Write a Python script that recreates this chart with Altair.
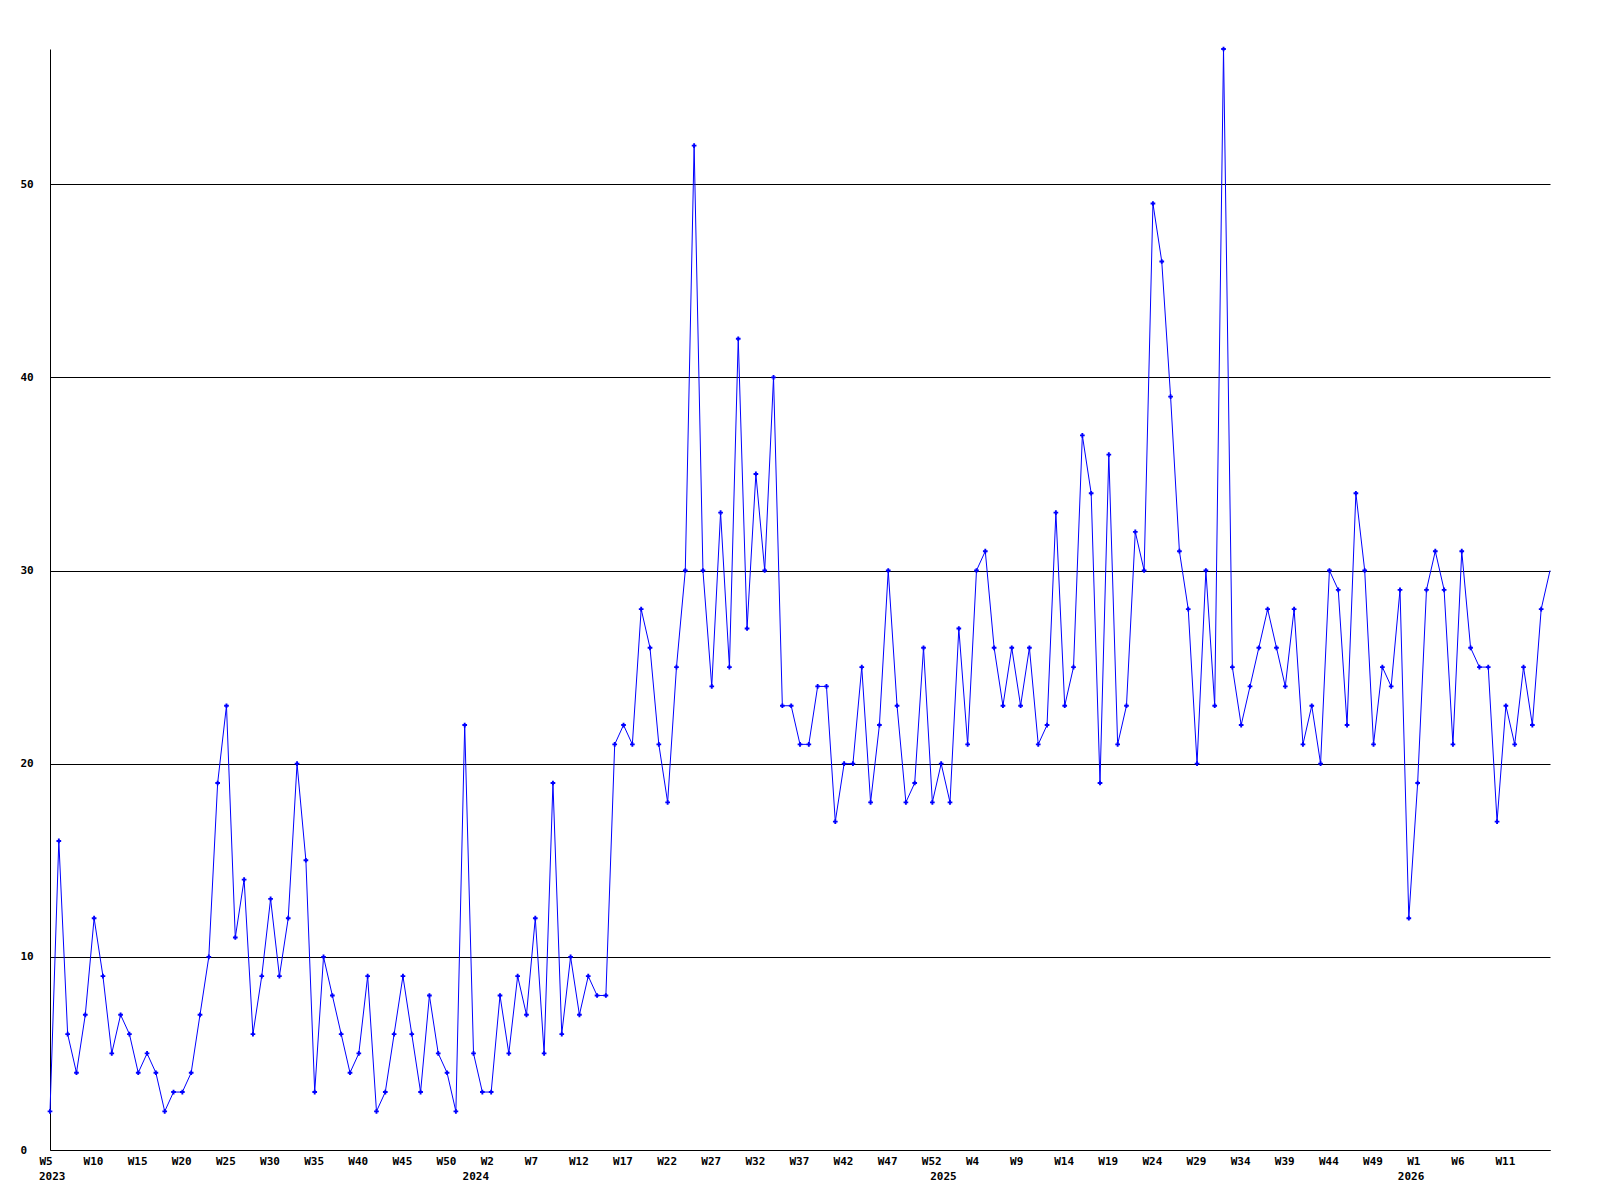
import altair as alt
import pandas as pd

# Weekly counts
values_2023 = [2, 16, 6, 4, 7, 12, 9, 5, 7, 6, 4, 5, 4, 2, 3, 3, 4, 7, 10, 19, 23, 11, 14, 6,
               9, 13, 9, 12, 20, 15, 3, 10, 8, 6, 4, 5, 9, 2, 3, 6, 9, 6, 3, 8, 5, 4, 2, 22]
values_2024 = [5, 3, 3, 8, 5, 9, 7, 12, 5, 19, 6, 10, 7, 9, 8, 8,
               21, 22, 21, 28, 26, 21, 18, 25, 30, 52, 30, 24, 33, 25, 42, 27, 35, 30, 40, 23, 23,
               21, 21, 24, 24, 17, 20, 20, 25, 18, 22, 30, 23, 18, 19, 26, 18]
values_2025 = [20, 18, 27, 21,
               30, 31, 26, 23, 26, 23, 26, 21, 22, 33, 23, 25, 37, 34, 19, 36, 21, 23, 32, 30,
               49, 46, 39, 31, 28, 20, 30, 23, 57, 25, 22, 24, 26, 28, 26, 24, 28, 21, 23, 20, 30, 29, 22,
               34, 30, 21, 25, 24, 29]
values_2026 = [12, 19, 29, 31, 29, 21, 31, 26, 25, 25, 17, 23, 21, 25, 22, 28, 30]

years = [2023, 2024, 2025, 2026]
first_week = [5, 0, 0, 0]
series = [values_2023, values_2024, values_2025, values_2026]
y_ticks = [0, 10, 20, 30, 40, 50]
y_max = 57

rows = []
year_rows = []
i = 0
for year, w0, vals in zip(years, first_week, series):
    year_rows.append({"idx": i, "label": str(year)})
    for k, v in enumerate(vals):
        rows.append({"idx": i, "year": year, "week": w0 + k, "count": v})
        i += 1
df = pd.DataFrame(rows)
year_df = pd.DataFrame(year_rows)
n = len(df)

tick_idx = list(range(0, n - 1, 5))
tick_labels = ["W%d" % df["week"][t] for t in tick_idx]
label_expr = "[" + ",".join("'%s'" % l for l in tick_labels) + "][round(datum.value/5)]"

FONT = "DejaVu Sans Mono"

x_enc = alt.X(
    "idx:Q",
    scale=alt.Scale(domain=[0, n - 1], nice=False, zero=False),
    axis=alt.Axis(
        values=tick_idx, labelExpr=label_expr, grid=False, ticks=False,
        domainColor="black", domainWidth=1, labelAlign="left", labelOffset=-11,
        labelPadding=5, labelFont=FONT, labelFontSize=11, labelFontWeight="bold",
        labelColor="black", title=None, labelOverlap=False, labelFlush=False,
    ),
)
y_enc = alt.Y(
    "count:Q",
    scale=alt.Scale(domain=[0, y_max], nice=False, zero=True),
    axis=alt.Axis(
        values=y_ticks, grid=True, gridColor="black", gridOpacity=1, gridWidth=1,
        ticks=False, domainColor="black", domainWidth=1, labelAlign="left",
        labelPadding=30, labelFont=FONT, labelFontSize=11, labelFontWeight="bold",
        labelColor="black", title=None, labelFlush=False, labelOverlap=False,
    ),
)

base = alt.Chart(df).encode(x=x_enc, y=y_enc)
line = base.mark_line(color="#0000ff", strokeWidth=1)
pts = base.mark_point(shape="cross", filled=True, size=22, color="#0000ff", opacity=1).transform_filter(
    alt.datum.idx < n - 1
)

year_text = alt.Chart(year_df).mark_text(
    align="left", dx=-11, baseline="middle", font=FONT, fontSize=11,
    fontWeight="bold", color="black",
).encode(x=alt.X("idx:Q"), y=alt.value(1128), text="label:N")

chart = alt.layer(line, pts, year_text).properties(
    width=1500, height=1101,
    autosize=alt.AutoSizeParams(type="none"),
    padding={"left": 42, "top": 41, "right": 20, "bottom": 40},
    background="white",
).configure_view(stroke=None)

chart.save("out.html", embed_options={"renderer": "svg", "actions": False})
